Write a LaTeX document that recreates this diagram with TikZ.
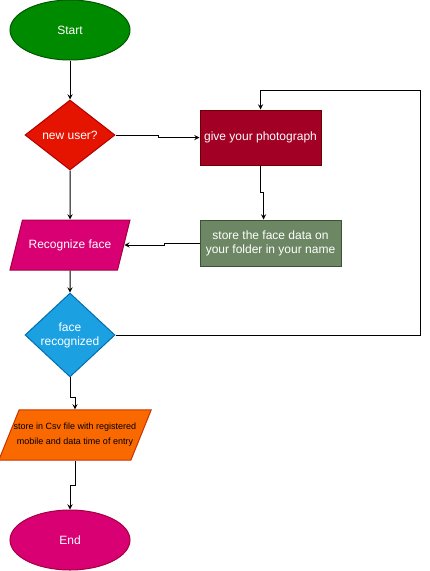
\documentclass[tikz,border=0pt]{standalone}
\usepackage{fontspec}
\setmainfont{Liberation Sans}
\usetikzlibrary{shapes.geometric, calc}
\definecolor{startgreen}{HTML}{008A00}
\definecolor{startline}{HTML}{005700}
\definecolor{userred}{HTML}{E51400}
\definecolor{userline}{HTML}{B20000}
\definecolor{photored}{HTML}{A20025}
\definecolor{photoline}{HTML}{6F0000}
\definecolor{facepink}{HTML}{D80073}
\definecolor{faceline}{HTML}{A50040}
\definecolor{storegreen}{HTML}{6D8764}
\definecolor{storeline}{HTML}{3A5431}
\definecolor{recblue}{HTML}{1BA1E2}
\definecolor{recline}{HTML}{006EAF}
\definecolor{csvorange}{HTML}{FA6800}
\definecolor{csvline}{HTML}{C73500}
\tikzset{
  label/.style={text=white, font=\fontsize{9}{10.5}\selectfont, align=center, inner sep=0pt, line width=0.75pt},
  terminal/.style={label, ellipse, minimum width=90pt, minimum height=45pt},
  decision/.style={label, diamond, minimum width=67.5pt, minimum height=52.5pt},
  process/.style={label, rectangle},
  io/.style={label, trapezium, trapezium stretches body=true},
}

\begin{document}
\begin{tikzpicture}[x=0.75pt, y=-0.75pt, line width=0.75pt]
  \useasboundingbox (0,0) rectangle (429,571);

  \node (start) [terminal, fill=startgreen, draw=startline] at (70,30) {Start};
  \node (newuser) [decision, fill=userred, draw=userline] at (70,135) {new user?};
  \node (photo) [process, fill=photored, draw=photoline, minimum width=90.75pt, minimum height=41.25pt] at (260.5,137.5) {give your photograph};
  \node (recog) [io, fill=facepink, draw=faceline, minimum width=90pt,
    text height=6.5pt, text depth=2pt, inner ysep=14.5pt,
    trapezium left angle=76, trapezium right angle=104] at (70,245) {Recognize face};
  \node (store) [process, fill=storegreen, draw=storeline, minimum width=105.75pt, minimum height=34.5pt] at (270.5,243) {store the face data on\\your folder in your name};
  \node (facerec) [decision, fill=recblue, draw=recline] at (70,335) {face\\recognized};
  \node (csv) [io, fill=csvorange, draw=csvline, minimum width=112.5pt,
    inner ysep=10pt, inner xsep=-4pt,
    trapezium left angle=68, trapezium right angle=112,
    text=black, font=\fontsize{6.75}{11.25}\selectfont] at (75,435) {store in Csv file with registered\\mobile and data time of entry};
  \node (end) [terminal, fill=facepink, draw=faceline] at (70,540) {End};
  \coordinate (loop) at (420,90);

  \draw [-stealth] (start) -- (newuser);
  \draw [-stealth] (newuser.east) -- ++(43,0) |- (photo.west);
  \draw [-stealth] (newuser) -- (recog);
  \draw [-stealth] (photo.south) -- ++(0,27) -| ($(store.north)+(-7,0)$);
  \draw [-stealth] (store.west) -- ++(-35,0) |- (recog.east);
  \draw [-stealth] (recog) -- (facerec);
  \draw [-stealth] (facerec.east) -| (loop) -| (photo.north);
  \draw [-stealth] (facerec.south) -- ++(0,20) -| (csv.north);
  \draw [-stealth] (csv.south) -- ++(0,25) -| (end.north);

\end{tikzpicture}
\end{document}
